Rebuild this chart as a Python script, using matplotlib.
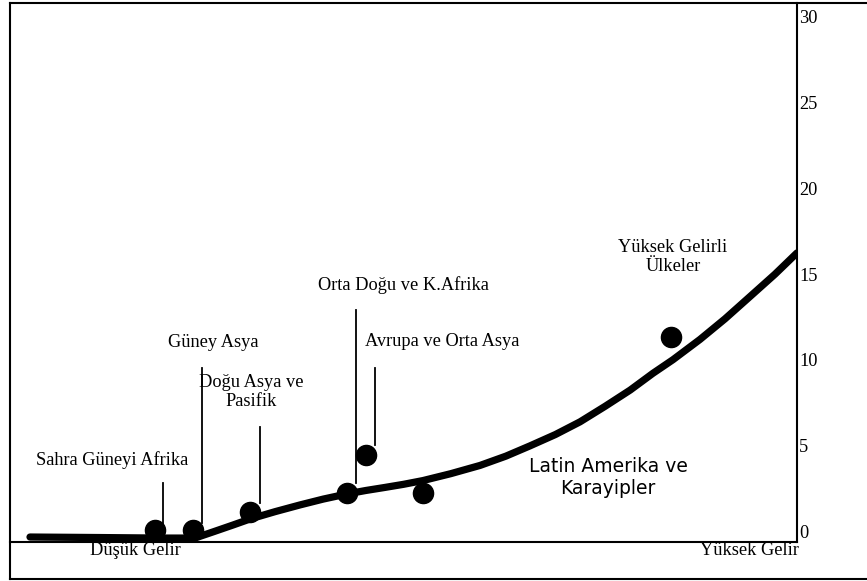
import matplotlib
matplotlib.use("Agg")
import matplotlib.pyplot as plt
from matplotlib.lines import Line2D

# ---- data (income index 0-100 on x, value 0-30 on y) ----
curve_x = [2.54, 11.44, 19.06, 23.5, 26.0, 28.34, 30.50, 33.7, 36.85, 39.8, 42.82,
           45.2, 47.65, 50.0, 52.48, 56.0, 59.72, 63.0, 66.07, 69.3, 72.43,
           75.6, 78.8, 81.70, 84.24, 87.67, 90.85, 94.03, 97.20, 100.0]
curve_y = [0.29, 0.26, 0.23, 0.23, 0.62, 0.99, 1.34, 1.77, 2.16, 2.50, 2.80,
           3.00, 3.18, 3.36, 3.58, 3.98, 4.46, 5.00, 5.60, 6.26, 7.00,
           7.90, 8.85, 9.83, 10.62, 11.80, 13.00, 14.30, 15.60, 16.84]

regions = ["Sahra Güneyi Afrika", "Güney Asya", "Doğu Asya ve\nPasifik",
           "Orta Doğu ve K.Afrika", "Avrupa ve Orta Asya",
           "Latin Amerika ve\nKarayipler", "Yüksek Gelirli\nÜlkeler"]
region_x = [18.42, 23.25, 30.50, 42.82, 45.23, 52.48, 84.0]
region_y = [0.70, 0.70, 1.75, 2.86, 5.07, 2.86, 11.95]

label_x = [12.96, 25.79, 30.62, 49.94, 54.89, 75.98, 84.24]
label_y = [4.78, 11.60, 8.74, 14.98, 11.66, 3.73, 16.61]

leader_x = [19.44, 24.40, 31.77, 43.96, 46.38]
leader_top = [3.44, 10.14, 6.70, 13.52, 10.14]
leader_bottom = [0.99, 1.11, 2.27, 3.44, 5.65]

y_ticks = [0, 5, 10, 15, 20, 25, 30]
x_end_labels = ["Düşük Gelir", "Yüksek Gelir"]
x_end_pos = [15.9, 94.0]

W, H = 867, 581
fig = plt.figure(figsize=(W / 100, H / 100), dpi=100)
ax = fig.add_axes([10 / W, 1 - 542 / H, 787 / W, 539 / H])
ax.set_xlim(0, 100)
ax.set_ylim(0, 31.4)

serif = "Liberation Serif"
fs = 13.2

ax.plot(curve_x, curve_y, color="black", lw=5.2, solid_capstyle="round",
        solid_joinstyle="round", zorder=3)
ax.plot(region_x, region_y, "o", color="black", ms=14.5, zorder=4)

for x, y0, y1 in zip(leader_x, leader_top, leader_bottom):
    ax.plot([x, x], [y1, y0], color="black", lw=1.3, zorder=2)

for i, (t, x, y) in enumerate(zip(regions, label_x, label_y)):
    if i == 5:
        ax.text(x, y, t, ha="center", va="center", fontsize=13.5,
                family="DejaVu Sans", linespacing=1.2)
    else:
        ax.text(x, y, t, ha="center", va="center", fontsize=fs,
                family=serif, linespacing=1.15)

for t, x in zip(x_end_labels, x_end_pos):
    ax.text(x, -0.5, t, ha="center", va="center", fontsize=fs,
            family=serif, clip_on=False)

ax.yaxis.tick_right()
ax.set_yticks(y_ticks)
ax.set_yticklabels([str(v) for v in y_ticks], family=serif, fontsize=fs)
for lab in ax.get_yticklabels():
    lab.set_va("bottom")
ax.tick_params(axis="y", length=0, pad=1.5)
ax.set_xticks([])

for s in ["top", "left"]:
    ax.spines[s].set_visible(False)
for s in ["right", "bottom"]:
    ax.spines[s].set_linewidth(1.5)
    ax.spines[s].set_color("black")

# outer frame
fx = lambda p: p / W
fy = lambda p: 1 - p / H
fig.add_artist(Line2D([fx(10), fx(10)], [fy(3), fy(579)], color="black", lw=1.5))
fig.add_artist(Line2D([fx(10), fx(867)], [fy(3), fy(3)], color="black", lw=1.5))
fig.add_artist(Line2D([fx(10), fx(867)], [fy(579), fy(579)], color="black", lw=1.5))

fig.savefig("out.png", dpi=100)
